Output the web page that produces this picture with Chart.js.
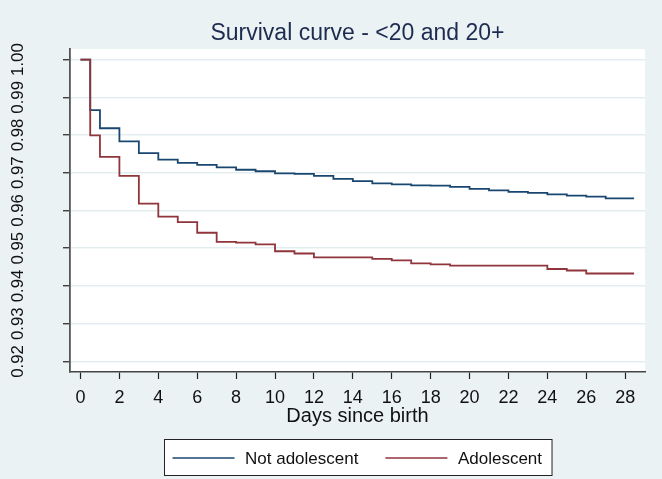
<!DOCTYPE html>
<html>
<head>
<meta charset="utf-8">
<script src="https://cdn.jsdelivr.net/npm/chart.js@4/dist/chart.umd.min.js"></script>
<style>
  html, body { margin: 0; padding: 0; background: #EAF2F3; }
  #wrap { width: 662px; height: 479px; }
</style>
</head>
<body>
<div id="wrap"><canvas id="c" width="662" height="479"></canvas></div>
<script>
// ---- data ----
const chartTitle = "Survival curve - <20 and 20+";
const xTitle = "Days since birth";
const seriesNames = ["Not adolescent", "Adolescent"];
const days = [0, 0.5, 1, 2, 3, 4, 5, 6, 7, 8, 9, 10, 11, 12, 13, 14, 15, 16, 17, 18, 19, 20, 21, 22, 23, 24, 25, 26, 27, 28.46];
const notAdolescent = [1.0, 0.9866, 0.9818, 0.9783, 0.9752, 0.9735, 0.9726, 0.9721, 0.97145, 0.9708, 0.9704, 0.96985, 0.9697, 0.96915, 0.9684, 0.9678, 0.9672, 0.96693, 0.96667, 0.96659, 0.96624, 0.96571, 0.96535, 0.96491, 0.96465, 0.96428, 0.96393, 0.96367, 0.96322, 0.96322];
const adolescent = [1.0, 0.9799, 0.9742, 0.9692, 0.9618, 0.9584, 0.9569, 0.9541, 0.9517, 0.9515, 0.9510, 0.9492, 0.9486, 0.9476, 0.9476, 0.9476, 0.9472, 0.9468, 0.9460, 0.9457, 0.9454, 0.9454, 0.9454, 0.9454, 0.9454, 0.9445, 0.9441, 0.9433, 0.9433, 0.9433];
const xTicks = [0, 2, 4, 6, 8, 10, 12, 14, 16, 18, 20, 22, 24, 26, 28];
const yTicks = [0.92, 0.93, 0.94, 0.95, 0.96, 0.97, 0.98, 0.99, 1.00];

// ---- styling ----
const FONT = "'Liberation Sans', Arial, Helvetica, sans-serif";
const BG = '#EAF2F3';
const colors = ['#1A476F', '#90353B'];

const bgPlugin = {
  id: 'bg',
  beforeDraw(chart) {
    const {ctx, chartArea: a} = chart;
    ctx.save();
    ctx.fillStyle = BG;
    ctx.fillRect(0, 0, chart.width, chart.height);
    ctx.fillStyle = '#FFFFFF';
    ctx.fillRect(a.left, a.top, a.right - a.left, a.bottom - a.top);
    ctx.restore();
  }
};

const textPlugin = {
  id: 'texts',
  afterDraw(chart) {
    const {ctx, chartArea: a} = chart;
    const cx = (a.left + a.right) / 2;
    ctx.save();
    // title
    ctx.fillStyle = '#1E2B50';
    ctx.font = '23px ' + FONT;
    ctx.textAlign = 'center';
    ctx.textBaseline = 'middle';
    ctx.fillText(chartTitle, cx, 34);
    // rotated y tick labels
    const ys = chart.scales.y;
    ctx.fillStyle = '#111';
    ctx.font = '16.8px ' + FONT;
    yTicks.forEach(v => {
      const py = ys.getPixelForValue(v);
      ctx.save();
      ctx.translate(18.5, py);
      ctx.rotate(-Math.PI / 2);
      ctx.textAlign = 'center';
      ctx.textBaseline = 'middle';
      ctx.fillText(v.toFixed(2), 0, 0);
      ctx.restore();
    });
    // legend
    ctx.font = '17px ' + FONT;
    const lineLen = 62, gapText = 10.5, gapItem = 27, padL = 8, padR = 10;
    const widths = seriesNames.map(n => ctx.measureText(n).width);
    let total = padL + padR;
    widths.forEach((w, i) => { total += lineLen + gapText + w + (i < widths.length - 1 ? gapItem : 0); });
    const bx = Math.round(cx - total / 2) + 0.5, by = 439.5, bh = 36;
    ctx.fillStyle = '#FFFFFF';
    ctx.fillRect(bx, by, total, bh);
    ctx.strokeStyle = '#222';
    ctx.lineWidth = 1;
    ctx.strokeRect(bx, by, total, bh);
    let x = bx + padL;
    const my = by + bh / 2 + 0.5;
    chart.data.datasets.forEach((ds, i) => {
      ctx.strokeStyle = ds.borderColor;
      ctx.lineWidth = 1.6;
      ctx.beginPath();
      ctx.moveTo(x, my);
      ctx.lineTo(x + lineLen, my);
      ctx.stroke();
      x += lineLen + gapText;
      ctx.fillStyle = '#111';
      ctx.textAlign = 'left';
      ctx.textBaseline = 'middle';
      ctx.fillText(ds.label, x, my + 1);
      x += widths[i] + gapItem;
    });
    ctx.restore();
  }
};

const mk = (vals) => days.map((d, i) => ({x: d, y: vals[i]}));

new Chart(document.getElementById('c'), {
  type: 'line',
  data: {
    datasets: [
      { label: seriesNames[0], data: mk(notAdolescent), borderColor: colors[0], borderWidth: 1.8, pointRadius: 0, stepped: 'before', fill: false, order: 1 },
      { label: seriesNames[1], data: mk(adolescent), borderColor: colors[1], borderWidth: 1.8, pointRadius: 0, stepped: 'before', fill: false, order: 0 }
    ]
  },
  options: {
    responsive: false,
    animation: false,
    devicePixelRatio: 1,
    layout: { padding: { top: 49, right: 17, bottom: 47, left: 0 } },
    plugins: { legend: { display: false }, title: { display: false }, tooltip: { enabled: false } },
    scales: {
      x: {
        type: 'linear',
        min: -0.54,
        max: 29.02,
        afterBuildTicks: s => { s.ticks = xTicks.map(v => ({value: v})); },
        afterFit: s => { s.height = 60; },
        grid: { drawOnChartArea: false, drawTicks: true, tickLength: 7, tickColor: '#222', tickWidth: 1.2 },
        border: { display: true, color: '#444', width: 1.5 },
        ticks: { color: '#111', font: { family: FONT, size: 18 }, padding: 8, maxRotation: 0, autoSkip: false },
        title: { display: true, text: xTitle, color: '#111', font: { family: FONT, size: 20 }, padding: { top: 0, bottom: 4 } }
      },
      y: {
        type: 'linear',
        min: 0.9172,
        max: 1.0028,
        afterBuildTicks: s => { s.ticks = yTicks.map(v => ({value: v})); },
        afterFit: s => { s.width = 70; },
        grid: { drawOnChartArea: true, color: '#E3EDEF', lineWidth: 1.5, drawTicks: true, tickLength: 7, tickColor: '#222', tickWidth: 1.2 },
        border: { display: true, color: '#555', width: 1.8 },
        ticks: { display: false }
      }
    }
  },
  plugins: [bgPlugin, textPlugin]
});
</script>
</body>
</html>
